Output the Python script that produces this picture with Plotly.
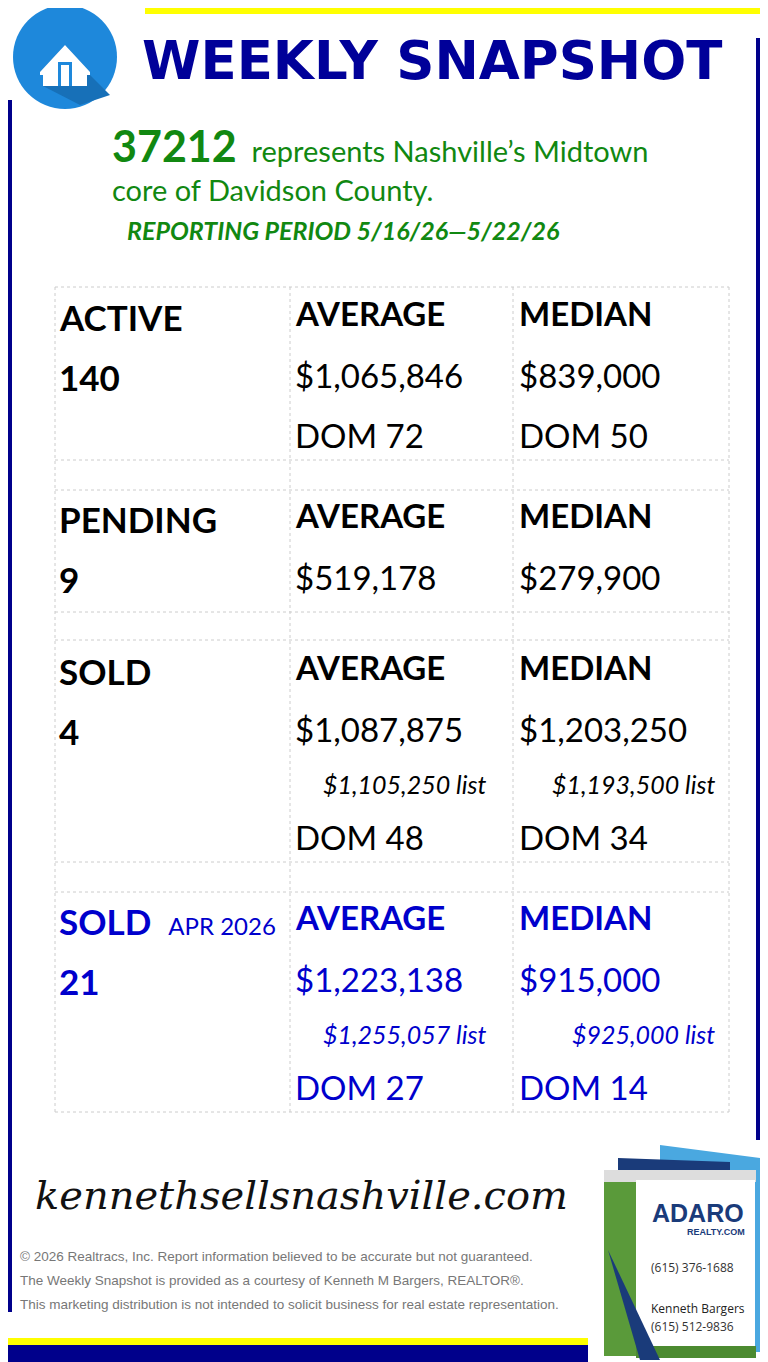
import plotly.graph_objects as go

W, H = 768, 1362
OFF = 8
zip_code = "37212"
period = "REPORTING PERIOD 5/16/26\u20145/22/26"
labels = ["ACTIVE", "PENDING", "SOLD", "SOLD"]
counts = ["140", "9", "4", "21"]
avg = ["$1,065,846", "$519,178", "$1,087,875", "$1,223,138"]
med = ["$839,000", "$279,900", "$1,203,250", "$915,000"]
avg_list = [None, None, "$1,105,250 list", "$1,255,057 list"]
med_list = [None, None, "$1,193,500 list", "$925,000 list"]
avg_dom = ["DOM 72", None, "DOM 48", "DOM 27"]
med_dom = ["DOM 50", None, "DOM 34", "DOM 14"]
row_top = [315, 517, 669, 919]

fig = go.Figure()
shapes, ann = [], []
def rect(x0, y0, x1, y1, color, layer="below"):
    shapes.append(dict(type="rect", x0=x0, y0=y0, x1=x1, y1=y1, fillcolor=color, line=dict(width=0), layer=layer))
def path(p, color):
    shapes.append(dict(type="path", path=p, fillcolor=color, line=dict(width=0), layer="above"))
def text(x, y, s, size, color="#000", bold=False, italic=False, font="Lato", anchor="left"):
    if bold: s = f"<b>{s}</b>"
    if italic: s = f"<i>{s}</i>"
    ann.append(dict(x=x, y=y, text=s, showarrow=False, xanchor=anchor, yanchor="middle",
                    font=dict(size=size, color=color, family=font)))

rect(145, 0, 768, 14, "#FFFF00")
rect(8, 100, 12, 1312, "#00008B", "above")
rect(756, 38, 760, 1140, "#00008B", "above")
rect(0, 1338, 588, 1345, "#FFFF00")
rect(0, 1345, 588, 1362, "#00008B")
shapes.append(dict(type="circle", x0=13, y0=5, x1=117, y1=109, fillcolor="#1E88DB", line=dict(width=0)))
path("M 65 45 L 90 72 L 90 75 L 110 95 L 80 105 L 43 86 L 43 75 L 40 75 L 40 72 Z", "#1770B8")
path("M 40 72 L 65 45 L 90 72 L 90 75 L 87 75 L 87 86 L 43 86 L 43 75 L 40 75 Z", "white")
path("M 58 62 L 72 62 L 72 86 L 58 86 Z", "#1E88DB")
path("M 61 65 L 69 65 L 69 86 L 61 86 Z", "white")

text(432, 60, "WEEKLY SNAPSHOT", 53, "#000099", bold=True, font="DejaVu Sans", anchor="center")
text(110, 145, f"<b><span style='font-size:43px'>{zip_code}</span></b>  represents Nashville\u2019s Midtown", 29, "#118811")
text(110, 189, "core of Davidson County.", 29, "#118811")
text(125, 230, period, 25, "#118811", bold=True, italic=True)

xs = [55, 290, 513, 729]
ys = [287, 460, 490, 612, 640, 862, 892, 1112]
for x in xs:
    shapes.append(dict(type="line", x0=x, x1=x, y0=287, y1=1112, line=dict(color="#CCCCCC", width=1, dash="dot")))
for y in ys:
    shapes.append(dict(type="line", x0=55, x1=729, y0=y, y1=y, line=dict(color="#CCCCCC", width=1, dash="dot")))

for i in range(4):
    c = "#0000CC" if i == 3 else "#000"
    y = row_top[i]
    lab = labels[i] + ("  <span style='font-size:24px;font-weight:normal'>APR 2026</span>" if i == 3 else "")
    text(57, y + 2, f"<b>{lab}</b>", 35, c)
    text(57, y + 62, counts[i], 35, c, bold=True)
    text(293, y - 2, "AVERAGE", 33, c, bold=True)
    text(517, y - 2, "MEDIAN", 33, c, bold=True)
    text(293, y + 60, avg[i], 33, c)
    text(517, y + 60, med[i], 33, c)
    yd = y + 120
    if avg_list[i]:
        text(488, y + 115, avg_list[i], 25, c, italic=True, anchor="right")
        text(717, y + 115, med_list[i], 25, c, italic=True, anchor="right")
        yd = y + 168
    if avg_dom[i]:
        text(293, yd, avg_dom[i], 33, c)
        text(517, yd, med_dom[i], 33, c)

text(33, 1195, "kennethsellsnashville.com", 40, "#111", font="DejaVu Serif", italic=True)
foot = ["\u00a9 2026 Realtracs, Inc. Report information believed to be accurate but not guaranteed.",
        "The Weekly Snapshot is provided as a courtesy of Kenneth M Bargers, REALTOR\u00ae.",
        "This marketing distribution is not intended to solicit business for real estate representation."]
for k, f in enumerate(foot):
    text(18, 1256 + k * 24, f, 13.5, "#777", font="Liberation Sans")

# sign graphic
path("M 660 1145 L 760 1158 L 760 1352 L 660 1352 Z", "#4AA8E0")
path("M 618 1158 L 730 1162 L 730 1352 L 618 1352 Z", "#1A3B7A")
rect(604, 1170, 636, 1356, "#5A9A3A", "above")
rect(604, 1170, 756, 1182, "#DDDDDD", "above")
rect(636, 1180, 755, 1346, "white", "above")
rect(636, 1346, 756, 1358, "#4C8A30", "above")
path("M 608 1250 L 640 1360 L 660 1360 Z", "#1A3B7A")
text(698, 1213, "ADARO", 25, "#1A3B7A", bold=True, font="Liberation Sans", anchor="center")
text(716, 1232, "REALTY.COM", 9, "#1A3B7A", bold=True, font="Liberation Sans", anchor="center")
text(649, 1267, "(615) 376-1688", 12, "#333", font="Open Sans")
text(649, 1308, "Kenneth Bargers", 12, "#222", font="Open Sans")
text(649, 1326, "(615) 512-9836", 12, "#333", font="Open Sans")

fig.update_layout(width=W - OFF, height=H - OFF, margin=dict(l=0, r=0, t=0, b=0), paper_bgcolor="white", plot_bgcolor="white",
                  shapes=shapes, annotations=ann, showlegend=False,
                  xaxis=dict(range=[OFF, W], visible=False, fixedrange=True),
                  yaxis=dict(range=[H, OFF], visible=False, fixedrange=True))
fig.write_html("out.html", config={"displayModeBar": False})
